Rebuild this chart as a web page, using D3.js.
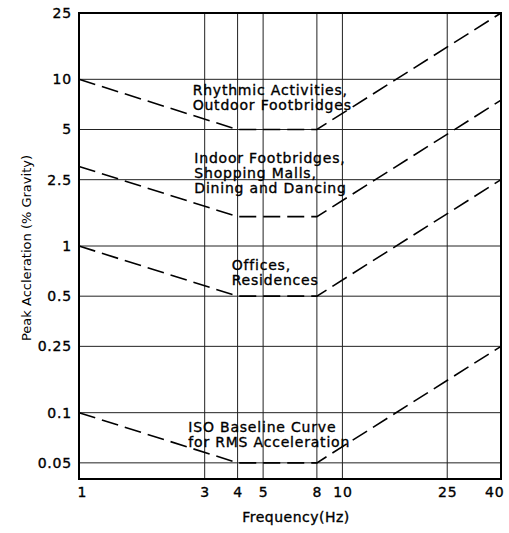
<!DOCTYPE html>
<html>
<head>
<meta charset="utf-8">
<script src="https://cdn.jsdelivr.net/npm/d3@7"></script>
<style>
  body { margin: 0; background: #fff; }
  text { font-family: "DejaVu Sans", sans-serif; fill: #000; }
  .heavy { stroke: #000; stroke-width: 0.35px; }
</style>
</head>
<body>
<svg id="chart" width="509" height="533"></svg>
<script>
const svg = d3.select("#chart");
const width = +svg.attr("width");
const height = +svg.attr("height");
const margin = { top: 13, right: 8, bottom: 54, left: 79 };

// data
const freqTicks = [1, 3, 4, 5, 8, 10, 25, 40];
const accelTicks = [0.05, 0.1, 0.25, 0.5, 1, 2.5, 5, 10, 25];
const breakFreqs = [1, 4, 8, 40];
const isoBaseline = [0.1, 0.05, 0.05, 0.25];
const offices = [1, 0.5, 0.5, 2.5];
const indoorFootbridges = [3, 1.5, 1.5, 7.5];
const rhythmic = [10, 5, 5, 25];
const curves = [isoBaseline, offices, indoorFootbridges, rhythmic];

// labels anchored in data units (freq, accel of first baseline)
const curveLabels = [
    { lines: ["Rhythmic Activities,", "Outdoor Footbridges"], f: 2.7, a: 8.1 },
    { lines: ["Indoor Footbridges,", "Shopping Malls,", "Dining and Dancing"], f: 2.74, a: 3.15 },
    { lines: ["Offices,", "Residences"], f: 3.8, a: 0.72 },
    { lines: ["ISO Baseline Curve", "for RMS Acceleration"], f: 2.6, a: 0.077 }
];

const x = d3.scaleLog()
    .domain([1, 40])
    .range([margin.left, width - margin.right]);
const y = d3.scaleLog()
    .domain([0.04, 25])
    .range([height - margin.bottom, margin.top]);

// grid
svg.append("g")
    .selectAll("line")
    .data(freqTicks)
    .join("line")
    .attr("x1", d => x(d)).attr("x2", d => x(d))
    .attr("y1", margin.top).attr("y2", height - margin.bottom)
    .attr("stroke", "#222")
    .attr("stroke-width", 1);

svg.append("g")
    .selectAll("line")
    .data(accelTicks)
    .join("line")
    .attr("x1", margin.left).attr("x2", width - margin.right)
    .attr("y1", d => y(d)).attr("y2", d => y(d))
    .attr("stroke", "#222")
    .attr("stroke-width", 1);

// curves
const line = d3.line()
    .x((d, i) => x(breakFreqs[i]))
    .y(d => y(d));

svg.append("g")
    .selectAll("path")
    .data(curves)
    .join("path")
    .attr("d", line)
    .attr("fill", "none")
    .attr("stroke", "#000")
    .attr("stroke-width", 1.6)
    .attr("stroke-dasharray", "17,7");

// frame
svg.append("rect")
    .attr("x", margin.left)
    .attr("y", margin.top)
    .attr("width", width - margin.left - margin.right)
    .attr("height", height - margin.top - margin.bottom)
    .attr("fill", "none")
    .attr("stroke", "#000")
    .attr("stroke-width", 2);

// axes labels
const xAxis = d3.axisBottom(x)
    .tickValues(freqTicks)
    .tickFormat(d3.format("d"))
    .tickSize(0)
    .tickPadding(8);
const gx = svg.append("g")
    .attr("transform", `translate(0,${height - margin.bottom})`)
    .call(xAxis);
gx.select(".domain").remove();
gx.selectAll("text")
    .attr("class", "heavy")
    .attr("font-family", "DejaVu Sans")
    .attr("font-size", 14)
    .attr("letter-spacing", 0.8)
    .attr("fill", "#000")
    .attr("text-anchor", d => d === 1 ? "start" : d === 40 ? "end" : "middle")
    .attr("dx", d => d === 1 ? -2 : d === 40 ? 3 : 0);

const yAxis = d3.axisLeft(y)
    .tickValues(accelTicks)
    .tickFormat(d => String(d))
    .tickSize(0)
    .tickPadding(7);
const gy = svg.append("g")
    .attr("transform", `translate(${margin.left},0)`)
    .call(yAxis);
gy.select(".domain").remove();
gy.selectAll("text")
    .attr("class", "heavy")
    .attr("font-family", "DejaVu Sans")
    .attr("font-size", 14)
    .attr("letter-spacing", 0.8)
    .attr("fill", "#000");

svg.append("text")
    .attr("class", "heavy")
    .attr("x", 296)
    .attr("y", 522)
    .attr("text-anchor", "middle")
    .attr("font-size", 14)
    .attr("letter-spacing", 0.5)
    .text("Frequency(Hz)");

svg.append("text")
    .attr("transform", "translate(31,248) rotate(-90)")
    .attr("text-anchor", "middle")
    .attr("font-size", 13)
    .text("Peak Accleration (% Gravity)");

// curve labels
curveLabels.forEach(lab => {
    const t = svg.append("text")
        .attr("class", "heavy")
        .attr("x", x(lab.f))
        .attr("y", y(lab.a))
        .attr("font-size", 14)
        .attr("letter-spacing", 0.8);
    lab.lines.forEach((s, i) => {
        t.append("tspan")
            .attr("x", x(lab.f))
            .attr("dy", i === 0 ? 0 : 15)
            .text(s);
    });
});
</script>
</body>
</html>
